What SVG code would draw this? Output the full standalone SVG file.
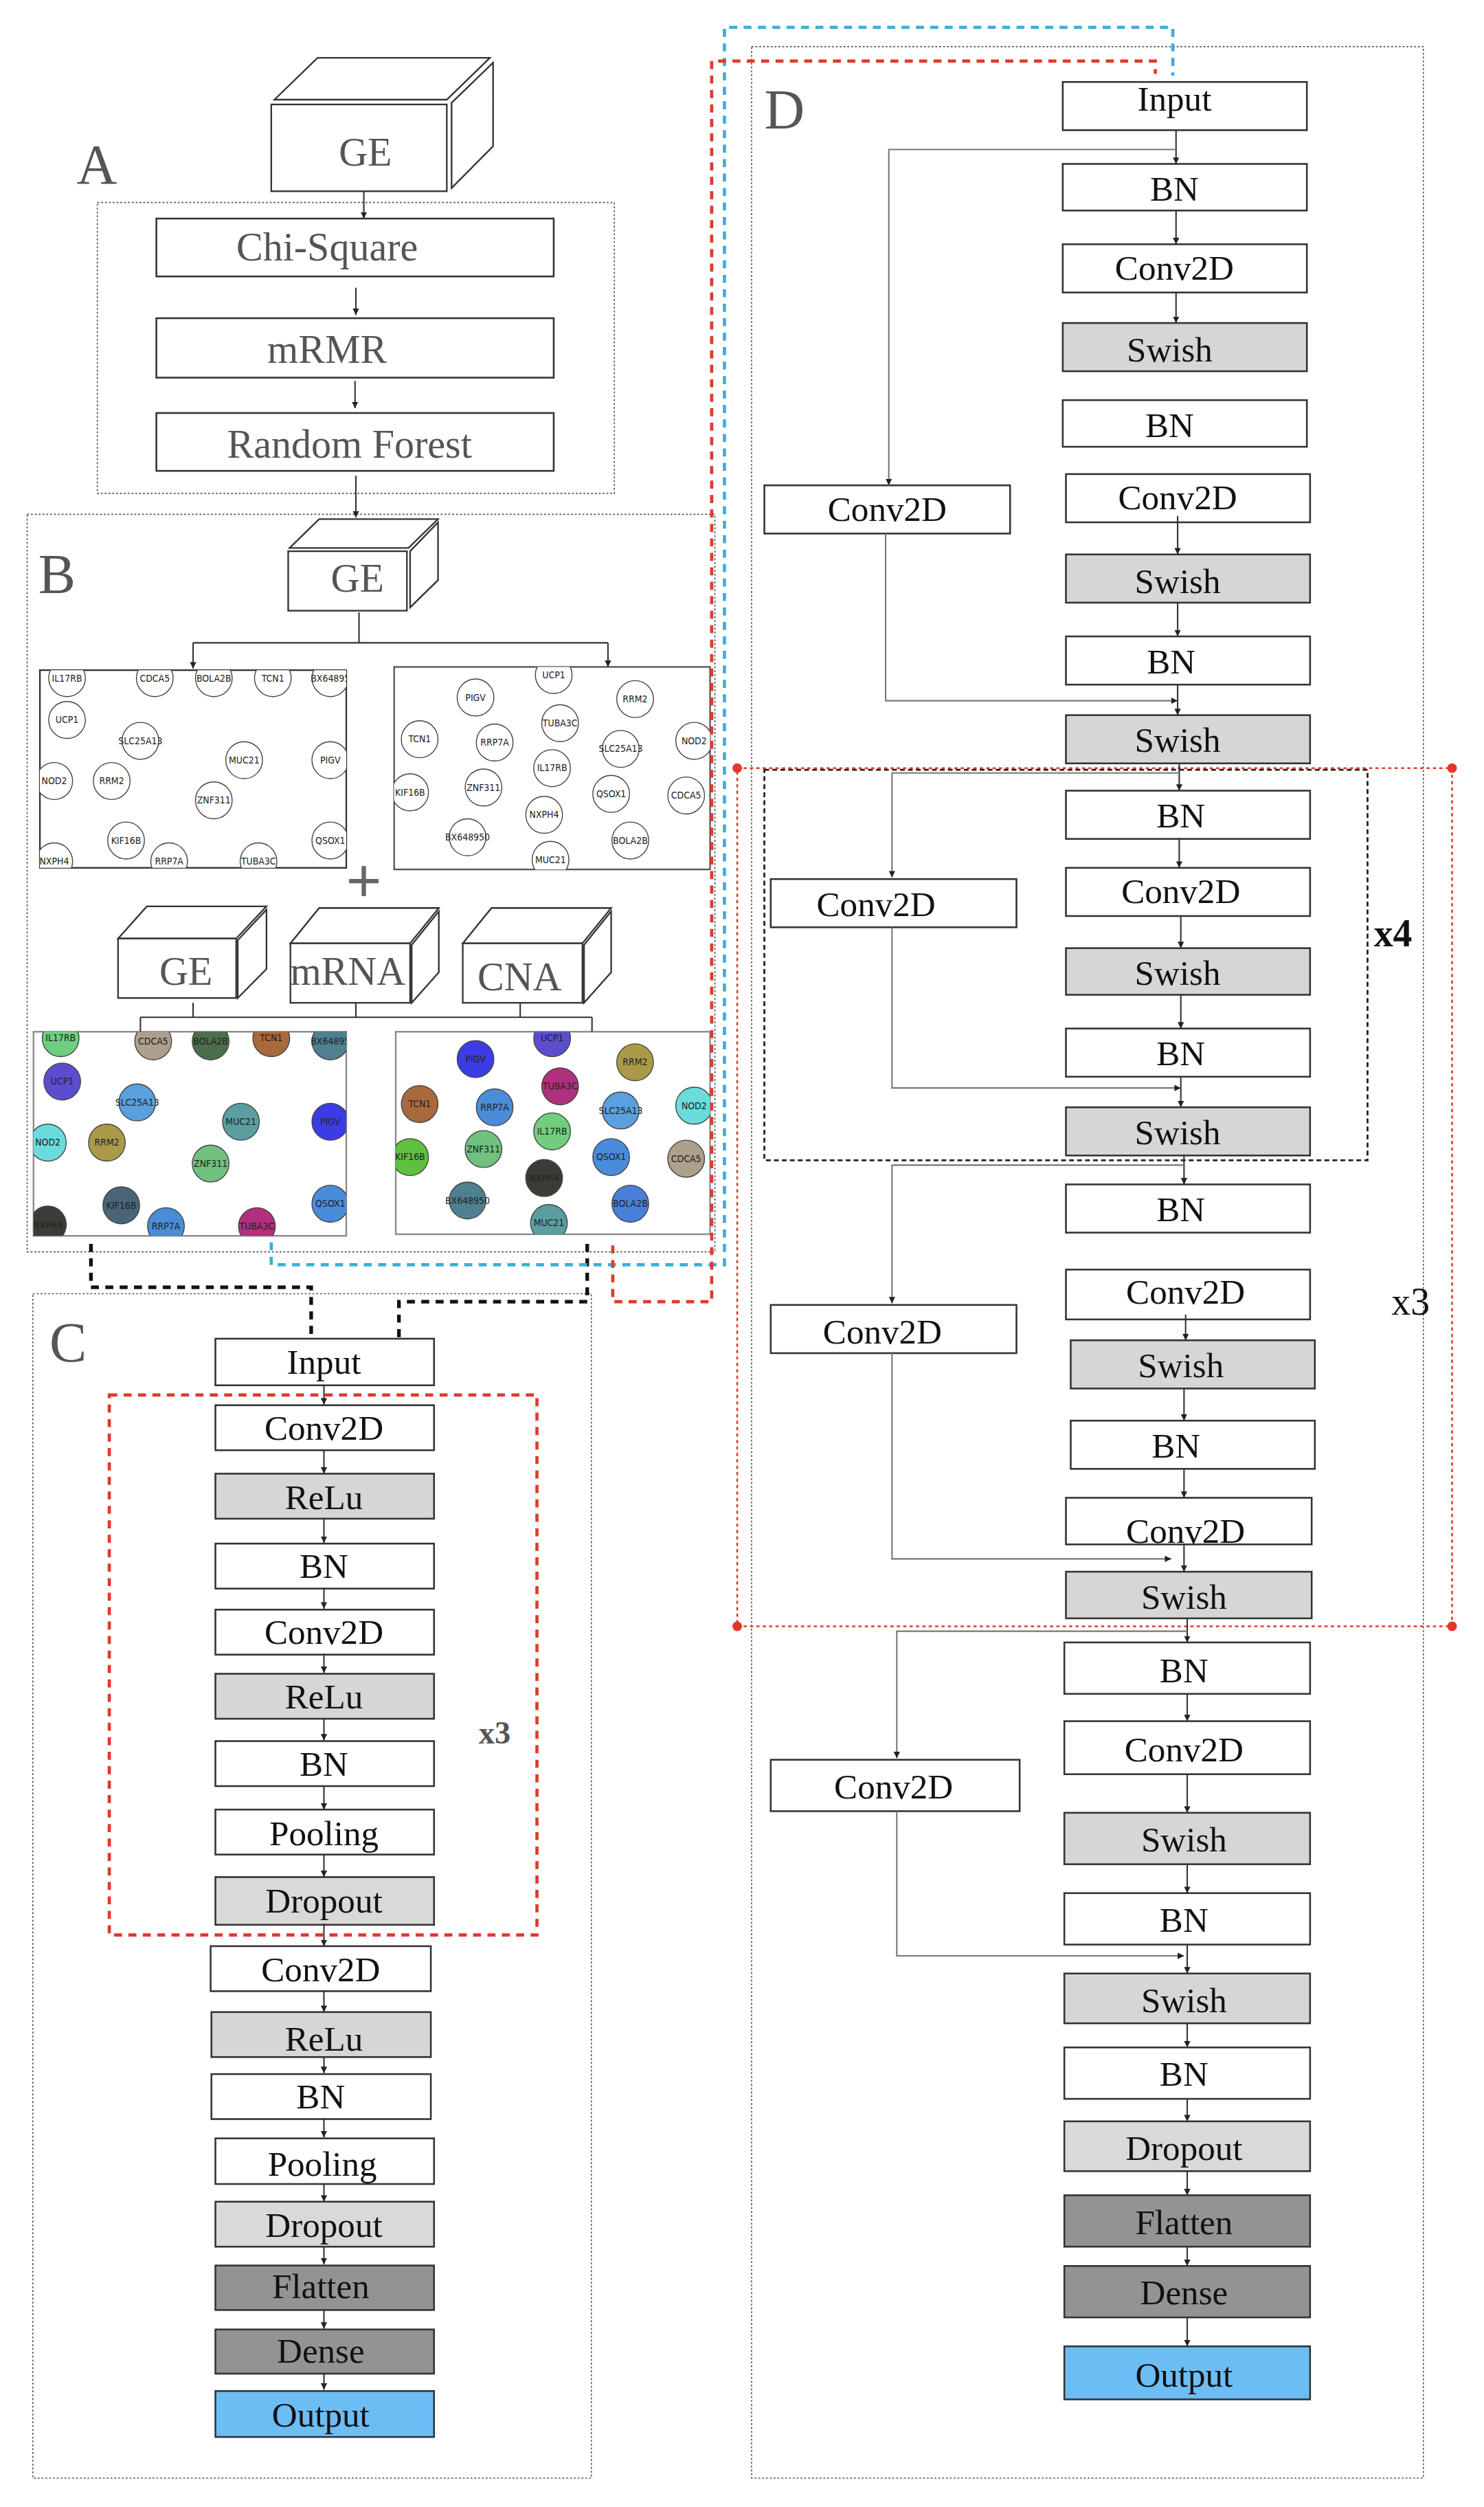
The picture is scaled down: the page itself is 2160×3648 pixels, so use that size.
<svg xmlns="http://www.w3.org/2000/svg" width="2160" height="3648" viewBox="0 0 2160 3648">
<style>
.lbl{font-family:"Liberation Serif","Times New Roman",serif;fill:#111;font-size:22px;text-anchor:middle}
.glbl{font-family:"Liberation Serif","Times New Roman",serif;fill:#555;text-anchor:middle}
.big{font-family:"Liberation Serif","Times New Roman",serif;fill:#555;font-size:35px}
.box{stroke:#333;stroke-width:1.1;fill:#fff}
.g1{fill:#d6d6d6}.g2{fill:#d9d9d9}.g3{fill:#939393}.out{fill:#6dbdf5}
.cube{fill:#fff;stroke:#333;stroke-width:1}
.dot{fill:none;stroke:#555;stroke-width:0.7;stroke-dasharray:1.2 1.2}
.gene{font-family:"Liberation Sans Narrow","DejaVu Sans Condensed","DejaVu Sans",sans-serif;font-size:6px;fill:#222;text-anchor:middle}
.ec{stroke:#444;stroke-width:0.6}
.ln{fill:none;stroke:#333;stroke-width:0.9}
.sk{fill:none;stroke:#777;stroke-width:0.9}
</style>
<defs>
<marker id="ar" viewBox="0 0 10 10" refX="10" refY="5" markerWidth="4" markerHeight="4" markerUnits="userSpaceOnUse" orient="auto"><path d="M0,0L10,5L0,10z" fill="#222"/></marker>
<clipPath id="p1"><rect x="25" y="417" width="192" height="123"/></clipPath>
<clipPath id="p2"><rect x="247" y="415" width="198" height="126"/></clipPath>
<clipPath id="p3"><rect x="21" y="642" width="196" height="127"/></clipPath>
<clipPath id="p4"><rect x="248" y="642" width="197" height="126"/></clipPath>
</defs>
<g transform="scale(2.3226,2.3385)">
<rect width="930" height="1560" fill="#fff"/>
<!-- frames -->
<g id="frames">
<rect class="dot" x="61" y="126" width="324" height="181"/>
<rect class="dot" x="17" y="320" width="431" height="459"/>
<rect class="dot" x="20.6" y="805" width="350" height="737"/>
<rect class="dot" x="471" y="29" width="421" height="1513"/>
<rect x="68.5" y="868" width="268" height="336" fill="none" stroke="#e0392b" stroke-width="2" stroke-dasharray="5 4"/>
<rect x="479" y="479" width="378" height="243" fill="none" stroke="#222" stroke-width="1.2" stroke-dasharray="3 2"/>
<rect x="462" y="478" width="448" height="534" fill="none" stroke="#e0392b" stroke-width="1.1" stroke-dasharray="2 2"/>
<circle cx="462" cy="478" r="3" fill="#e0392b"/><circle cx="910" cy="478" r="3" fill="#e0392b"/>
<circle cx="462" cy="1012" r="3" fill="#e0392b"/><circle cx="910" cy="1012" r="3" fill="#e0392b"/>
<text class="big" x="48" y="114" font-size="36">A</text>
<text class="big" x="24" y="369">B</text>
<text class="big" x="31" y="847" font-size="34">C</text>
<text class="big" x="479" y="80" font-size="34">D</text>
<text x="300" y="1085" font-family="Liberation Serif,serif" font-weight="bold" font-size="20" fill="#555">x3</text>
<text x="861" y="589" font-family="Liberation Serif,serif" font-weight="bold" font-size="24" fill="#111">x4</text>
<text x="872" y="818" font-family="Liberation Serif,serif" font-size="24" fill="#111">x3</text>
<text x="228" y="561" font-family="Liberation Sans,sans-serif" font-size="38" fill="#666" text-anchor="middle">+</text>
</g>
<!-- A -->
<g id="A-GE"><polygon class="cube" points="172,62 199,36 307,36 280,62"/><polygon class="cube" points="283,64 309,39 309,91 283,117"/><rect class="cube" x="170" y="65" width="110" height="54"/><text class="glbl" x="229" y="103" font-size="25">GE</text></g>
<g id="A-chi"><rect class="box" x="98" y="136" width="249" height="36"/><text class="glbl" x="205" y="162" font-size="25">Chi-Square</text></g>
<g id="A-mrmr"><rect class="box" x="98" y="198" width="249" height="37"/><text class="glbl" x="205" y="226" font-size="25">mRMR</text></g>
<g id="A-rf"><rect class="box" x="98" y="257" width="249" height="36"/><text class="glbl" x="219" y="285" font-size="25">Random Forest</text></g>
<!-- B -->
<g id="B-GE"><polygon class="cube" points="181.5,341 200,323 274.5,323 256,341"/><polygon class="cube" points="257,343 274.5,325 274.5,361 257,378"/><rect class="cube" x="180.6" y="343" width="74.4" height="37"/><text class="glbl" x="224" y="368" font-size="25">GE</text></g>
<g id="B-GE2"><polygon class="cube" points="74,584 92,564 167,564 148,584"/><polygon class="cube" points="149,585 167,566 167,603 149,621"/><rect class="cube" x="74" y="584" width="74" height="37"/><text class="glbl" x="116.5" y="613" font-size="25">GE</text></g>
<g id="B-mRNA"><polygon class="cube" points="182,587 200,565 275,565 257,587"/><polygon class="cube" points="258,588 275,567 275,605 258,624"/><rect class="cube" x="182" y="587" width="75" height="37"/><text class="glbl" x="218" y="613" font-size="25">mRNA</text></g>
<g id="B-CNA"><polygon class="cube" points="290,587 308,565 383,565 365,587"/><polygon class="cube" points="366,588 383,567 383,605 366,624"/><rect class="cube" x="290" y="587" width="75" height="37"/><text class="glbl" x="325.6" y="616" font-size="25">CNA</text></g>
<g id="B-panel1"><rect x="25" y="417" width="192" height="123" fill="#fff" stroke="#333" stroke-width="1"/>
<g clip-path="url(#p1)" fill="#fff" class="ec">
<circle cx="42" cy="422" r="11.5"/><circle cx="97" cy="422" r="11.5"/><circle cx="134" cy="422" r="11.5"/><circle cx="171" cy="422" r="11.5"/><circle cx="207" cy="422" r="11.5"/><circle cx="42" cy="448" r="11.5"/><circle cx="88" cy="461" r="11.5"/><circle cx="153" cy="473" r="11.5"/><circle cx="207" cy="473" r="11.5"/><circle cx="34" cy="486" r="11.5"/><circle cx="70" cy="486" r="11.5"/><circle cx="134" cy="498" r="11.5"/><circle cx="79" cy="523" r="11.5"/><circle cx="207" cy="523" r="11.5"/><circle cx="34" cy="536" r="11.5"/><circle cx="106" cy="536" r="11.5"/><circle cx="162" cy="536" r="11.5"/>
<g class="gene" stroke="none" fill="#222"><text x="42" y="424">IL17RB</text><text x="97" y="424">CDCA5</text><text x="134" y="424">BOLA2B</text><text x="171" y="424">TCN1</text><text x="207" y="424">BX64895</text><text x="42" y="450">UCP1</text><text x="88" y="463">SLC25A13</text><text x="153" y="475">MUC21</text><text x="207" y="475">PIGV</text><text x="34" y="488">NOD2</text><text x="70" y="488">RRM2</text><text x="134" y="500">ZNF311</text><text x="79" y="525">KIF16B</text><text x="207" y="525">QSOX1</text><text x="34" y="538">NXPH4</text><text x="106" y="538">RRP7A</text><text x="162" y="538">TUBA3C</text></g></g></g>
<g id="B-panel2"><rect x="247" y="415" width="198" height="126" fill="#fff" stroke="#555" stroke-width="1"/>
<g clip-path="url(#p2)" fill="#fff" class="ec">
<circle cx="347" cy="420" r="11.5"/><circle cx="298" cy="434" r="11.5"/><circle cx="398" cy="435" r="11.5"/><circle cx="351" cy="450" r="11.5"/><circle cx="263" cy="460" r="11.5"/><circle cx="310" cy="462" r="11.5"/><circle cx="389" cy="466" r="11.5"/><circle cx="435" cy="461" r="11.5"/><circle cx="346" cy="478" r="11.5"/><circle cx="257" cy="493" r="11.5"/><circle cx="303" cy="490" r="11.5"/><circle cx="383" cy="494" r="11.5"/><circle cx="430" cy="495" r="11.5"/><circle cx="341" cy="507" r="11.5"/><circle cx="293" cy="521" r="11.5"/><circle cx="395" cy="523" r="11.5"/><circle cx="345" cy="535" r="11.5"/>
<g class="gene" stroke="none" fill="#222"><text x="347" y="422">UCP1</text><text x="298" y="436">PIGV</text><text x="398" y="437">RRM2</text><text x="351" y="452">TUBA3C</text><text x="263" y="462">TCN1</text><text x="310" y="464">RRP7A</text><text x="389" y="468">SLC25A13</text><text x="435" y="463">NOD2</text><text x="346" y="480">IL17RB</text><text x="257" y="495">KIF16B</text><text x="303" y="492">ZNF311</text><text x="383" y="496">QSOX1</text><text x="430" y="497">CDCA5</text><text x="341" y="509">NXPH4</text><text x="293" y="523">BX648950</text><text x="395" y="525">BOLA2B</text><text x="345" y="537">MUC21</text></g></g></g>
<g id="B-panel3"><rect x="21" y="642" width="196" height="127" fill="#fff" stroke="#888" stroke-width="1"/>
<g clip-path="url(#p3)" class="ec">
<circle cx="38" cy="646" r="11.5" fill="#6fcf7f"/><circle cx="96" cy="648" r="11.5" fill="#ada08c"/><circle cx="132" cy="648" r="11.5" fill="#4a6e4a"/><circle cx="170" cy="646" r="11.5" fill="#a8693c"/><circle cx="207" cy="648" r="11.5" fill="#4e8090"/><circle cx="39" cy="673" r="11.5" fill="#5a4ecf"/><circle cx="86" cy="686" r="11.5" fill="#5aa0dc"/><circle cx="151" cy="698" r="11.5" fill="#5a9ea0"/><circle cx="207" cy="698" r="11.5" fill="#3c3ce6"/><circle cx="30" cy="711" r="11.5" fill="#6adcdc"/><circle cx="67" cy="711" r="11.5" fill="#aa9a48"/><circle cx="132" cy="724" r="11.5" fill="#70c080"/><circle cx="76" cy="750" r="11.5" fill="#4a6478"/><circle cx="207" cy="749" r="11.5" fill="#4a8cdc"/><circle cx="30" cy="762" r="11.5" fill="#3c3c36"/><circle cx="104" cy="763" r="11.5" fill="#4a8cd8"/><circle cx="161" cy="763" r="11.5" fill="#b0307e"/>
<g class="gene" stroke="none"><text x="38" y="648">IL17RB</text><text x="96" y="650">CDCA5</text><text x="132" y="650">BOLA2B</text><text x="170" y="648">TCN1</text><text x="207" y="650">BX64895</text><text x="39" y="675">UCP1</text><text x="86" y="688">SLC25A13</text><text x="151" y="700">MUC21</text><text x="207" y="700">PIGV</text><text x="30" y="713">NOD2</text><text x="67" y="713">RRM2</text><text x="132" y="726">ZNF311</text><text x="76" y="752">KIF16B</text><text x="207" y="751">QSOX1</text><text x="30" y="764">NXPH4</text><text x="104" y="765">RRP7A</text><text x="161" y="765">TUBA3C</text></g></g></g>
<g id="B-panel4"><rect x="248" y="642" width="197" height="126" fill="#fff" stroke="#888" stroke-width="1"/>
<g clip-path="url(#p4)" class="ec">
<circle cx="346" cy="646" r="11.5" fill="#5a4ecf"/><circle cx="298" cy="659" r="11.5" fill="#3c3ce6"/><circle cx="398" cy="661" r="11.5" fill="#aa9a48"/><circle cx="351" cy="676" r="11.5" fill="#b0307e"/><circle cx="263" cy="687" r="11.5" fill="#a8693c"/><circle cx="310" cy="689" r="11.5" fill="#4a8cd8"/><circle cx="389" cy="691" r="11.5" fill="#5aa0dc"/><circle cx="435" cy="688" r="11.5" fill="#6adcdc"/><circle cx="346" cy="704" r="11.5" fill="#6fcf7f"/><circle cx="257" cy="720" r="11.5" fill="#60c040"/><circle cx="303" cy="715" r="11.5" fill="#70c080"/><circle cx="383" cy="720" r="11.5" fill="#4a8cdc"/><circle cx="430" cy="721" r="11.5" fill="#ada08c"/><circle cx="341" cy="733" r="11.5" fill="#3c3c36"/><circle cx="293" cy="747" r="11.5" fill="#4e8090"/><circle cx="395" cy="749" r="11.5" fill="#4a80dc"/><circle cx="344" cy="761" r="11.5" fill="#5a9ea0"/>
<g class="gene" stroke="none"><text x="346" y="648">UCP1</text><text x="298" y="661">PIGV</text><text x="398" y="663">RRM2</text><text x="351" y="678">TUBA3C</text><text x="263" y="689">TCN1</text><text x="310" y="691">RRP7A</text><text x="389" y="693">SLC25A13</text><text x="435" y="690">NOD2</text><text x="346" y="706">IL17RB</text><text x="257" y="722">KIF16B</text><text x="303" y="717">ZNF311</text><text x="383" y="722">QSOX1</text><text x="430" y="723">CDCA5</text><text x="341" y="735">NXPH4</text><text x="293" y="749">BX648950</text><text x="395" y="751">BOLA2B</text><text x="344" y="763">MUC21</text></g></g></g>
<!-- C -->
<g id="C-input"><rect class="box" x="135" y="833" width="137" height="29"/><text class="lbl" x="203" y="855">Input</text></g>
<g id="C-conv1"><rect class="box" x="135" y="874.4" width="137" height="28"/><text class="lbl" x="203" y="896">Conv2D</text></g>
<g id="C-relu1"><rect class="box g1" x="135" y="917" width="137" height="28"/><text class="lbl" x="203" y="939">ReLu</text></g>
<g id="C-bn1"><rect class="box" x="135" y="960.5" width="137" height="28"/><text class="lbl" x="203" y="982">BN</text></g>
<g id="C-conv2"><rect class="box" x="135" y="1001.6" width="137" height="28"/><text class="lbl" x="203" y="1023">Conv2D</text></g>
<g id="C-relu2"><rect class="box g1" x="135" y="1041.5" width="137" height="28"/><text class="lbl" x="203" y="1063">ReLu</text></g>
<g id="C-bn2"><rect class="box" x="135" y="1083.4" width="137" height="28"/><text class="lbl" x="203" y="1105">BN</text></g>
<g id="C-pool1"><rect class="box" x="135" y="1126" width="137" height="28"/><text class="lbl" x="203" y="1148">Pooling</text></g>
<g id="C-drop1"><rect class="box g2" x="135" y="1168" width="137" height="29.7"/><text class="lbl" x="203" y="1190">Dropout</text></g>
<g id="C-conv3"><rect class="box" x="132" y="1211" width="138" height="28"/><text class="lbl" x="201" y="1233">Conv2D</text></g>
<g id="C-relu3"><rect class="box g1" x="132.5" y="1252" width="137.5" height="28"/><text class="lbl" x="203" y="1276">ReLu</text></g>
<g id="C-bn3"><rect class="box" x="132.5" y="1290.6" width="137.5" height="28"/><text class="lbl" x="201" y="1312">BN</text></g>
<g id="C-pool2"><rect class="box" x="135" y="1330.6" width="137" height="28.4"/><text class="lbl" x="202" y="1354">Pooling</text></g>
<g id="C-drop2"><rect class="box g2" x="135" y="1370" width="137" height="28"/><text class="lbl" x="203" y="1392">Dropout</text></g>
<g id="C-flat"><rect class="box g3" x="135" y="1409.7" width="137" height="27.7"/><text class="lbl" x="201" y="1430">Flatten</text></g>
<g id="C-dense"><rect class="box g3" x="135" y="1449.5" width="137" height="27.5"/><text class="lbl" x="201" y="1470">Dense</text></g>
<g id="C-out"><rect class="box out" x="135" y="1487.8" width="137" height="28.6"/><text class="lbl" x="201" y="1510">Output</text></g>
<!-- D -->
<g id="D-input"><rect class="box" x="666" y="51" width="153" height="30"/><text class="lbl" x="736" y="69">Input</text></g>
<g id="D-bn1"><rect class="box" x="666" y="102" width="153" height="29"/><text class="lbl" x="736" y="125">BN</text></g>
<g id="D-conv1"><rect class="box" x="666" y="152" width="153" height="30"/><text class="lbl" x="736" y="174">Conv2D</text></g>
<g id="D-sw1"><rect class="box g1" x="666" y="201" width="153" height="30"/><text class="lbl" x="733" y="225">Swish</text></g>
<g id="D-bn2"><rect class="box" x="666" y="249" width="153" height="29"/><text class="lbl" x="733" y="272">BN</text></g>
<g id="D-conv2"><rect class="box" x="668" y="295" width="153" height="30"/><text class="lbl" x="738" y="317">Conv2D</text></g>
<g id="D-sw2"><rect class="box g1" x="668" y="345" width="153" height="30"/><text class="lbl" x="738" y="369">Swish</text></g>
<g id="D-bn3"><rect class="box" x="668" y="396" width="153" height="30"/><text class="lbl" x="734" y="419">BN</text></g>
<g id="D-sw3"><rect class="box g1" x="668" y="445" width="153" height="30"/><text class="lbl" x="738" y="468">Swish</text></g>
<g id="D-sconv1"><rect class="box" x="479" y="302" width="154" height="30"/><text class="lbl" x="556" y="324">Conv2D</text></g>
<g id="D-bn4"><rect class="box" x="668" y="492" width="153" height="30"/><text class="lbl" x="740" y="515">BN</text></g>
<g id="D-conv4"><rect class="box" x="668" y="540" width="153" height="30"/><text class="lbl" x="740" y="562">Conv2D</text></g>
<g id="D-sw4"><rect class="box g1" x="668" y="590" width="153" height="29"/><text class="lbl" x="738" y="613">Swish</text></g>
<g id="D-bn5"><rect class="box" x="668" y="640" width="153" height="30"/><text class="lbl" x="740" y="663">BN</text></g>
<g id="D-sw5"><rect class="box g1" x="668" y="689" width="153" height="30"/><text class="lbl" x="738" y="712">Swish</text></g>
<g id="D-sconv2"><rect class="box" x="483" y="547" width="154" height="30"/><text class="lbl" x="549" y="570">Conv2D</text></g>
<g id="D-bn6"><rect class="box" x="668" y="737" width="153" height="30"/><text class="lbl" x="740" y="760">BN</text></g>
<g id="D-conv6"><rect class="box" x="668" y="790" width="153" height="31"/><text class="lbl" x="743" y="811">Conv2D</text></g>
<g id="D-sw6"><rect class="box g1" x="671" y="834" width="153" height="30"/><text class="lbl" x="740" y="857">Swish</text></g>
<g id="D-bn7"><rect class="box" x="671" y="884" width="153" height="30"/><text class="lbl" x="737" y="907">BN</text></g>
<g id="D-conv7"><rect class="box" x="668" y="932" width="154" height="29"/><text class="lbl" x="743" y="960">Conv2D</text></g>
<g id="D-sw7"><rect class="box g1" x="668" y="978" width="154" height="29"/><text class="lbl" x="742" y="1001">Swish</text></g>
<g id="D-sconv3"><rect class="box" x="483" y="812" width="154" height="30"/><text class="lbl" x="553" y="836">Conv2D</text></g>
<g id="D-bn8"><rect class="box" x="667" y="1022" width="154" height="32"/><text class="lbl" x="742" y="1047">BN</text></g>
<g id="D-conv8"><rect class="box" x="667" y="1071" width="154" height="33"/><text class="lbl" x="742" y="1096">Conv2D</text></g>
<g id="D-sw8"><rect class="box g1" x="667" y="1128" width="154" height="32"/><text class="lbl" x="742" y="1152">Swish</text></g>
<g id="D-bn9"><rect class="box" x="667" y="1178" width="154" height="32"/><text class="lbl" x="742" y="1202">BN</text></g>
<g id="D-sw9"><rect class="box g1" x="667" y="1228" width="154" height="31"/><text class="lbl" x="742" y="1252">Swish</text></g>
<g id="D-bn10"><rect class="box" x="667" y="1274" width="154" height="32"/><text class="lbl" x="742" y="1298">BN</text></g>
<g id="D-drop"><rect class="box g2" x="667" y="1320" width="154" height="31"/><text class="lbl" x="742" y="1344">Dropout</text></g>
<g id="D-flat"><rect class="box g3" x="667" y="1366" width="154" height="32"/><text class="lbl" x="742" y="1390">Flatten</text></g>
<g id="D-dense"><rect class="box g3" x="667" y="1410" width="154" height="32"/><text class="lbl" x="742" y="1434">Dense</text></g>
<g id="D-out"><rect class="box out" x="667" y="1460" width="154" height="33"/><text class="lbl" x="742" y="1485">Output</text></g>
<g id="D-sconv4"><rect class="box" x="483" y="1095" width="156" height="32"/><text class="lbl" x="560" y="1119">Conv2D</text></g>
<!-- connectors -->
<g id="connectors">
<g class="ln" marker-end="url(#ar)">
<path d="M228,119V136"/><path d="M223,179V196"/><path d="M222.5,237V254"/><path d="M223,296V322"/>
<path d="M121,400V416"/><path d="M381,400V415"/>
<path d="M203,862V874"/><path d="M203,902V917"/><path d="M203,945V960"/><path d="M203,988V1001"/><path d="M203,1029V1041"/><path d="M203,1069V1083"/><path d="M203,1111V1126"/><path d="M203,1154V1168"/><path d="M203,1197V1211"/><path d="M203,1239V1252"/><path d="M203,1280V1290"/><path d="M203,1318V1330"/><path d="M203,1359V1370"/><path d="M203,1398V1409"/><path d="M203,1437V1449"/><path d="M203,1477V1487"/>
<path d="M737,81V102"/><path d="M737,131V152"/><path d="M737,182V201"/><path d="M738,321V345"/><path d="M738,375V396"/><path d="M738,426V445"/>
<path d="M739,475V492"/><path d="M739,522V540"/><path d="M740,570V590"/><path d="M740,619V640"/><path d="M740,670V689"/><path d="M742,719V737"/>
<path d="M743,818V834"/><path d="M742,864V884"/><path d="M742,914V932"/><path d="M742,961V978"/><path d="M744,1007V1022"/>
<path d="M744,1054V1071"/><path d="M744,1104V1128"/><path d="M744,1160V1178"/><path d="M744,1210V1228"/><path d="M744,1259V1274"/><path d="M744,1306V1320"/><path d="M744,1351V1366"/><path d="M744,1398V1410"/><path d="M744,1442V1460"/>
</g>
<path class="ln" d="M225,381V400M121,400H381"/>
<path class="ln" d="M121,624V633M223,624V633M326,624V633M88,633H371M88,633V642M371,633V642"/>
<g class="sk" marker-end="url(#ar)">
<path d="M737,93H557V302"/><path d="M555,332V436H738"/>
<path d="M739,481H559V546"/><path d="M559,577V677H740"/>
<path d="M742,725H559V811"/><path d="M559,842V970H734"/>
<path d="M744,1015H562V1094"/><path d="M562,1127V1217H742"/>
</g>
<path d="M57,774V801H195V833" fill="none" stroke="#111" stroke-width="2.3" stroke-dasharray="5 4"/>
<path d="M368,774V810H250V833" fill="none" stroke="#111" stroke-width="2.3" stroke-dasharray="5 4"/>
<path d="M170,773V787H454V17H735V47" fill="none" stroke="#3aaed8" stroke-width="2" stroke-dasharray="5 4"/>
<path d="M384,775V810H446V38H724V46" fill="none" stroke="#e0392b" stroke-width="2" stroke-dasharray="5 4"/>
</g>
</g>
</svg>
